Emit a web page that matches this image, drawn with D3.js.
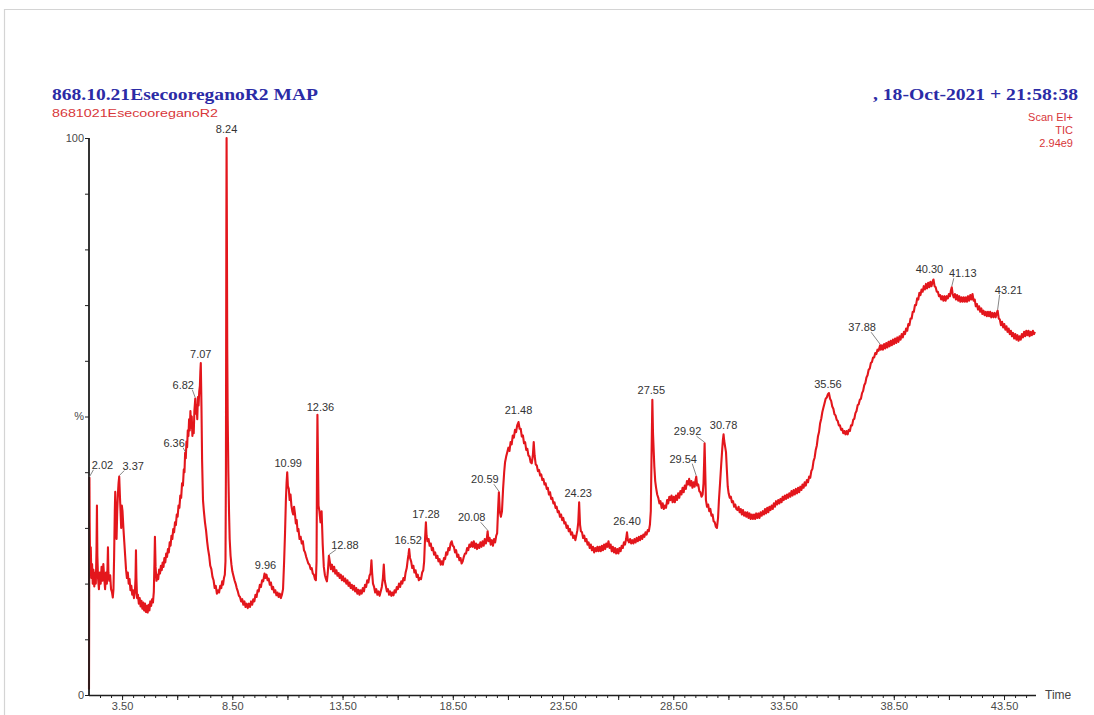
<!DOCTYPE html>
<html>
<head>
<meta charset="utf-8">
<script src="https://cdn.jsdelivr.net/npm/d3@7"></script>
<style>
  html, body { margin: 0; padding: 0; background: #fff; }
  svg { display: block; }
</style>
</head>
<body>
<svg id="chart" width="1094" height="715"></svg>
<script>
// Total ion chromatogram: [retention time (min), relative abundance (%)]
const ticTrace = [
  [2.00,1.0],[2.01,18],[2.02,39.0],[2.03,31],[2.05,24],[2.08,26.5],[2.11,21],[2.14,23.5],[2.17,20],[2.20,22.5],
  [2.24,19.5],[2.28,22],[2.31,20],[2.34,26],[2.36,34],[2.38,25],[2.41,21],[2.45,19],[2.49,22],[2.53,20],
  [2.57,23],[2.61,20.5],[2.65,23.5],[2.69,21],[2.73,19],[2.77,22],[2.81,20],[2.84,23],[2.86,26.5],[2.88,22],
  [2.92,20.5],[2.96,21.5],[3.00,19],[3.04,18.5],[3.08,17.5],[3.11,19],[3.14,25],[3.17,33],[3.19,36.5],[3.22,31],
  [3.25,28],[3.28,33],[3.31,36],[3.34,38],[3.37,39.2],[3.40,36],[3.43,33],[3.46,30],[3.49,34],[3.52,33],
  [3.56,30],[3.60,27.5],[3.64,25],[3.68,22.5],[3.72,21],[3.76,22],[3.80,20],[3.84,20.8],[3.88,18.8],[3.92,19.6],
  [3.96,18],[4.00,18.8],[4.04,17.4],[4.08,18.4],[4.11,21],[4.13,26],[4.15,21],[4.18,17.4],[4.22,18],[4.26,16.4],
  [4.30,17.4],[4.34,15.9],[4.38,16.9],[4.42,15.5],[4.46,16.6],[4.50,15.2],[4.54,16.4],[4.58,14.9],[4.62,16],[4.66,14.8],
  [4.70,16.2],[4.74,15.2],[4.78,16.8],[4.82,16],[4.86,17.2],[4.90,16.6],[4.94,18.5],[4.97,24],[4.99,28.4],[5.02,23],
  [5.06,20.5],[5.10,21.6],[5.14,20.8],[5.18,22.5],[5.22,21.8],[5.26,23.2],[5.30,22.4],[5.34,23.8],[5.38,23],[5.42,24.6],
  [5.46,23.8],[5.50,25.4],[5.54,24.8],[5.58,26.2],[5.62,25.6],[5.66,27.4],[5.70,26.8],[5.74,28.6],[5.78,28],[5.82,29.8],
  [5.86,29.2],[5.90,31],[5.94,30.5],[5.98,32.4],[6.02,32],[6.06,34],[6.10,33.6],[6.14,35.8],[6.18,35.4],[6.22,38],
  [6.26,37.6],[6.30,40.5],[6.33,40],[6.36,43.5],[6.39,42.5],[6.42,45.5],[6.45,44.5],[6.48,47.5],[6.51,46.5],[6.54,49.5],
  [6.57,47.5],[6.60,51],[6.63,48],[6.66,50],[6.69,46.5],[6.72,48.5],[6.75,47],[6.78,51],[6.82,53.2],[6.85,50.5],
  [6.88,52],[6.91,49.5],[6.94,53.5],[6.97,52],[7.00,54.5],[7.03,55.5],[7.05,58],[7.07,59.6],[7.10,52],[7.13,42],
  [7.17,35],[7.21,33],[7.26,31],[7.31,29.5],[7.36,27.5],[7.40,26.2],[7.45,25],[7.50,23.2],[7.55,22.6],[7.60,21.2],
  [7.65,20.6],[7.70,19.2],[7.75,19.6],[7.80,18.2],[7.85,18.8],[7.90,18.4],[7.95,19.6],[8.00,19.2],[8.04,20.4],[8.08,19.8],
  [8.12,21],[8.16,21.6],[8.19,24],[8.21,40],[8.23,85],[8.24,100],[8.25,88],[8.27,62],[8.29,50],[8.32,40],
  [8.35,33],[8.38,28],[8.42,25],[8.46,23.4],[8.50,22.2],[8.55,21.4],[8.60,20.6],[8.65,20],[8.70,19.2],[8.75,18.6],
  [8.80,17.8],[8.85,17.6],[8.90,16.8],[8.95,17.2],[9.00,16.2],[9.05,16.8],[9.10,15.8],[9.15,16.4],[9.20,15.6],[9.25,16.4],
  [9.30,15.8],[9.35,16.8],[9.40,16.2],[9.45,17.2],[9.50,16.8],[9.55,18],[9.60,17.6],[9.65,18.8],[9.70,18.6],[9.75,19.8],
  [9.80,19.4],[9.85,20.6],[9.90,20.4],[9.96,21.8],[10.00,21],[10.05,21.6],[10.10,20.6],[10.15,20.9],[10.20,19.8],[10.25,20.2],
  [10.30,19],[10.35,19.4],[10.40,18.4],[10.45,18.8],[10.50,17.9],[10.55,18.4],[10.60,17.6],[10.65,18.2],[10.70,17.4],[10.75,18],
  [10.80,19],[10.85,24],[10.89,29],[10.93,35],[10.96,38],[10.99,40],[11.02,37.5],[11.06,37],[11.10,35],[11.14,36],
  [11.18,34],[11.22,33],[11.26,32.4],[11.30,33.8],[11.34,32.6],[11.38,30.8],[11.42,31.4],[11.46,29.4],[11.50,29.8],[11.55,28],
  [11.60,28.4],[11.65,27.2],[11.70,27.6],[11.75,26],[11.80,25.6],[11.85,24.8],[11.90,24.2],[11.95,23.6],[12.00,23.4],[12.05,22.6],
  [12.10,22.8],[12.15,21.8],[12.20,21.6],[12.25,20.8],[12.29,20.6],[12.32,24],[12.34,40],[12.36,50.3],[12.38,44],[12.41,34],
  [12.45,33],[12.50,31],[12.55,33],[12.60,27],[12.65,23],[12.70,21.5],[12.75,20.8],[12.79,20.4],[12.83,22],[12.88,25],
  [12.92,24],[12.97,22.6],[13.02,23.4],[13.07,22.2],[13.12,23],[13.17,21.8],[13.22,22.4],[13.27,21.4],[13.32,21.9],[13.37,21],
  [13.42,21.6],[13.47,20.6],[13.52,21.3],[13.57,20.4],[13.62,20.9],[13.67,20],[13.72,20.6],[13.77,19.6],[13.82,20.2],[13.87,19.2],
  [13.92,19.8],[13.97,18.9],[14.02,19.6],[14.07,18.6],[14.12,19.2],[14.17,18.2],[14.22,18.9],[14.27,18],[14.32,18.8],[14.37,18.2],
  [14.42,19.2],[14.47,18.6],[14.52,19.8],[14.57,19.4],[14.62,20.6],[14.67,20.2],[14.72,21.4],[14.77,21.8],[14.81,24.2],[14.84,22],
  [14.88,20],[14.93,19.4],[14.98,18.4],[15.03,19],[15.08,18],[15.13,18.6],[15.18,17.8],[15.23,18.6],[15.28,19.4],[15.33,21],
  [15.37,23.4],[15.41,20.6],[15.46,19.6],[15.51,18.6],[15.56,19],[15.61,18],[15.66,18.6],[15.71,17.8],[15.76,18.4],[15.81,17.9],
  [15.86,18.8],[15.91,18.4],[15.96,19.4],[16.01,19],[16.06,20],[16.11,19.4],[16.16,20.4],[16.21,20],[16.26,21],[16.31,20.6],
  [16.36,22],[16.41,22.8],[16.46,24.4],[16.49,25.2],[16.52,26.2],[16.56,24.6],[16.61,24],[16.66,22.8],[16.71,23.2],[16.76,22],
  [16.81,22.4],[16.86,21.2],[16.91,21.6],[16.96,20.6],[17.01,21],[17.06,20.8],[17.11,22],[17.16,22.4],[17.20,24],[17.24,28],
  [17.28,31],[17.31,28.6],[17.35,27.6],[17.40,28],[17.45,26.8],[17.50,27.2],[17.55,26],[17.60,26.4],[17.65,25.2],[17.70,25.6],
  [17.75,24.6],[17.80,25],[17.85,24],[17.90,24.4],[17.95,23.4],[18.00,24],[18.05,23.4],[18.10,24.6],[18.15,24.4],[18.20,25.6],
  [18.25,25.2],[18.30,26.4],[18.35,26],[18.40,27.2],[18.45,27.6],[18.50,26.8],[18.55,26.6],[18.60,25.6],[18.65,26],[18.70,24.8],
  [18.75,25.2],[18.80,24.2],[18.85,24.6],[18.90,23.6],[18.95,24],[19.00,24.8],[19.05,25.4],[19.10,25.4],[19.15,26.4],[19.20,26],
  [19.25,27],[19.30,26.6],[19.35,27.4],[19.40,26.6],[19.45,27.6],[19.50,26.4],[19.55,27.2],[19.60,26.2],[19.65,27],[19.70,26.4],
  [19.75,27.4],[19.80,26.6],[19.85,27.6],[19.90,26.8],[19.95,28],[20.00,27.2],[20.04,28],[20.08,29.4],[20.12,27.6],[20.17,28.2],
  [20.22,27],[20.27,27.8],[20.32,26.8],[20.37,28],[20.42,27.4],[20.47,28.6],[20.51,29],[20.55,33],[20.59,36.4],[20.63,33],
  [20.68,32],[20.73,33],[20.78,37],[20.83,40],[20.87,41.8],[20.92,42.8],[20.97,43.6],[21.02,44.4],[21.07,43.8],[21.12,45.4],
  [21.17,45],[21.22,46.6],[21.27,46.2],[21.32,47.6],[21.37,47.2],[21.42,48.4],[21.48,49],[21.53,47.8],[21.58,47.8],[21.63,46.4],
  [21.68,46.6],[21.73,45.2],[21.78,45.4],[21.83,44],[21.88,44.2],[21.93,43],[21.98,42.8],[22.03,41.8],[22.08,41.6],[22.13,43],
  [22.17,45.4],[22.21,43],[22.26,41.4],[22.31,41.2],[22.36,40.2],[22.41,40.4],[22.46,39.4],[22.51,39.6],[22.56,38.6],[22.61,38.8],
  [22.66,37.8],[22.71,38],[22.76,37],[22.81,37.2],[22.86,36],[22.91,36.4],[22.96,35.2],[23.01,35.4],[23.06,34.4],[23.11,34.6],
  [23.16,33.6],[23.21,33.8],[23.26,32.8],[23.31,33],[23.36,32],[23.41,32.4],[23.46,31.4],[23.51,31.8],[23.56,30.8],[23.61,31],
  [23.66,30],[23.71,30.4],[23.76,29.4],[23.81,29.8],[23.86,28.8],[23.91,29.2],[23.96,28.2],[24.01,28.6],[24.06,27.8],[24.11,28.8],
  [24.15,29.6],[24.19,31],[24.23,34.6],[24.27,30.6],[24.31,29.4],[24.36,29.2],[24.41,28.2],[24.46,28.6],[24.51,27.6],[24.56,28],
  [24.61,27],[24.66,27.4],[24.71,26.4],[24.76,27],[24.81,26],[24.86,26.6],[24.91,25.6],[24.96,26.4],[25.01,25.8],[25.06,26.6],
  [25.11,25.8],[25.16,26.6],[25.21,25.8],[25.26,26.8],[25.31,26],[25.36,27],[25.41,26.2],[25.46,27.2],[25.51,26.6],[25.56,27.6],
  [25.61,26.4],[25.66,27],[25.71,25.8],[25.76,26.6],[25.81,25.6],[25.86,26.4],[25.91,25.4],[25.96,26.2],[26.01,25.4],[26.06,26.4],
  [26.11,25.8],[26.16,26.8],[26.21,26.4],[26.26,27.4],[26.31,27],[26.36,28],[26.40,29.2],[26.44,27.8],[26.49,27.4],[26.54,28],
  [26.59,27.2],[26.64,27.8],[26.69,27.2],[26.74,28],[26.79,27.4],[26.84,28.2],[26.89,27.6],[26.94,28.4],[26.99,27.8],[27.04,28.6],
  [27.09,28],[27.14,28.8],[27.19,28.4],[27.24,29.2],[27.29,28.8],[27.34,29.6],[27.39,29.4],[27.44,30.6],[27.48,33],[27.51,42],
  [27.55,53],[27.58,47],[27.61,44],[27.64,41],[27.68,38.4],[27.72,37.2],[27.77,36],[27.82,35.4],[27.87,34.4],[27.92,34.8],
  [27.97,33.6],[28.02,34.4],[28.07,33.4],[28.12,34],[28.17,33.6],[28.22,35],[28.27,34.4],[28.32,35.6],[28.37,35],[28.42,35.8],
  [28.47,34.6],[28.52,35.6],[28.57,34.6],[28.62,35.8],[28.67,35],[28.72,36.2],[28.77,35.4],[28.82,36.6],[28.87,36],[28.92,37.2],
  [28.97,36.4],[29.02,37.6],[29.07,37],[29.12,38.4],[29.17,37.8],[29.22,38.8],[29.27,37.6],[29.32,38.4],[29.37,37.2],[29.42,38.2],
  [29.47,37.4],[29.51,38.6],[29.54,39.2],[29.58,37.6],[29.63,37.8],[29.68,36.6],[29.73,36.4],[29.78,35.6],[29.83,36],[29.87,38],
  [29.90,42],[29.92,45.2],[29.95,40],[29.98,35],[30.03,33.8],[30.08,34.2],[30.13,33],[30.18,33.4],[30.23,32.2],[30.28,32.4],
  [30.33,31.2],[30.38,31],[30.43,30.2],[30.48,30],[30.53,31.8],[30.57,35],[30.62,38],[30.67,41.2],[30.72,44.2],[30.75,45.8],
  [30.78,46.8],[30.81,45.6],[30.85,44.6],[30.89,43.6],[30.93,40.4],[30.97,37.4],[31.01,36.2],[31.06,35.4],[31.11,35.6],[31.16,34.6],
  [31.21,34.8],[31.26,33.8],[31.31,34.2],[31.36,33.4],[31.41,33.2],[31.46,33.8],[31.51,32.8],[31.56,33.4],[31.61,32.4],[31.66,33.2],
  [31.71,32.2],[31.76,32.8],[31.81,32],[31.86,32.8],[31.91,31.8],[31.96,32.6],[32.01,31.6],[32.06,32.4],[32.11,31.6],[32.16,32.4],
  [32.21,31.6],[32.26,32.6],[32.31,31.8],[32.36,32.6],[32.41,31.8],[32.46,32.8],[32.51,32.2],[32.56,33],[32.61,32.4],[32.66,33.4],
  [32.71,32.6],[32.76,33.6],[32.81,32.8],[32.86,33.8],[32.91,33.2],[32.96,34],[33.01,33.4],[33.06,34.4],[33.11,33.8],[33.16,34.8],
  [33.21,34.2],[33.26,35],[33.31,34.4],[33.36,35.2],[33.41,34.6],[33.46,35.6],[33.51,35],[33.56,35.8],[33.61,35.2],[33.66,36],
  [33.71,35.4],[33.76,36.2],[33.81,35.6],[33.86,36.6],[33.91,35.8],[33.96,36.8],[34.01,36],[34.06,37],[34.11,36.2],[34.16,37.2],
  [34.21,36.4],[34.26,37.4],[34.31,36.8],[34.36,37.8],[34.41,37.2],[34.46,38.2],[34.51,37.6],[34.56,38.6],[34.61,38.2],[34.66,39.2],
  [34.71,39],[34.76,40.2],[34.81,40.6],[34.86,42],[34.91,42.6],[34.96,44],[35.01,44.8],[35.06,46.4],[35.11,47.2],[35.16,48.8],
  [35.21,49.6],[35.26,50.8],[35.31,51.6],[35.36,52.4],[35.41,53.2],[35.46,53.4],[35.51,54],[35.56,54.2],[35.61,53.2],[35.66,52.8],
  [35.71,51.8],[35.76,51.4],[35.81,50.4],[35.86,50.2],[35.91,49.4],[35.96,49.2],[36.01,48.4],[36.06,48.4],[36.11,47.6],[36.16,47.8],
  [36.21,47],[36.26,47.4],[36.31,46.8],[36.36,47.4],[36.41,46.8],[36.46,47.6],[36.51,47.4],[36.56,48.4],[36.61,48.4],[36.66,49.4],
  [36.71,49.6],[36.76,50.6],[36.81,51],[36.86,52],[36.91,52.2],[36.96,53],[37.01,53.2],[37.06,54.2],[37.11,54.6],[37.16,55.6],
  [37.21,56],[37.26,57],[37.31,57.4],[37.36,58.4],[37.41,58.6],[37.46,59.6],[37.51,59.8],[37.56,60.6],[37.61,60.6],[37.66,61.4],
  [37.71,61.2],[37.76,62],[37.81,61.8],[37.88,62.8],[37.91,62],[37.96,62.8],[38.01,62],[38.06,63],[38.11,62.2],[38.16,63.2],
  [38.21,62.4],[38.26,63.4],[38.31,62.6],[38.36,63.6],[38.41,62.8],[38.46,63.8],[38.51,63],[38.56,64],[38.61,63.2],[38.66,64.2],
  [38.71,63.4],[38.76,64.4],[38.81,63.8],[38.86,64.8],[38.91,64.2],[38.96,65.2],[39.01,64.8],[39.06,65.8],[39.11,65.4],[39.16,66.6],
  [39.21,66.4],[39.26,67.6],[39.31,67.6],[39.36,68.8],[39.41,68.8],[39.46,70],[39.51,70],[39.56,71.2],[39.61,71],[39.66,72.2],
  [39.71,71.8],[39.76,72.8],[39.81,72.4],[39.86,73.4],[39.91,72.8],[39.96,73.8],[40.01,73],[40.06,74],[40.11,73.2],[40.16,74.2],
  [40.21,73.4],[40.26,74.2],[40.30,74.6],[40.35,73.4],[40.40,73.2],[40.45,72.4],[40.50,72.4],[40.55,71.6],[40.60,71.8],[40.65,71],
  [40.70,71.6],[40.75,70.8],[40.80,71.6],[40.85,70.8],[40.90,71.6],[40.95,71.2],[41.00,72],[41.05,71.6],[41.09,72.6],[41.13,73.2],
  [41.17,72],[41.22,71.4],[41.27,72],[41.32,71],[41.37,71.8],[41.42,70.8],[41.47,71.6],[41.52,70.6],[41.57,71.4],[41.62,70.6],
  [41.67,71.4],[41.72,70.6],[41.77,71.4],[41.82,70.6],[41.87,71.6],[41.92,70.8],[41.97,71.8],[42.02,71],[42.07,72],[42.12,70.8],
  [42.17,71],[42.22,69.8],[42.27,70.2],[42.32,69.2],[42.37,69.8],[42.42,68.8],[42.47,69.4],[42.52,68.4],[42.57,69],[42.62,68.2],
  [42.67,68.8],[42.72,68],[42.77,68.8],[42.82,68],[42.87,68.8],[42.92,67.8],[42.97,68.6],[43.02,67.8],[43.07,68.6],[43.12,67.8],
  [43.17,68.6],[43.21,69],[43.26,67.6],[43.31,67.4],[43.36,66.4],[43.41,67],[43.46,66],[43.51,66.6],[43.56,65.6],[43.61,66.2],
  [43.66,65.2],[43.71,65.8],[43.76,64.8],[43.81,65.4],[43.86,64.4],[43.91,65],[43.96,64],[44.01,64.8],[44.06,63.8],[44.11,64.6],
  [44.16,63.6],[44.21,64.4],[44.26,63.8],[44.31,64.8],[44.36,64.2],[44.41,65.2],[44.46,64.4],[44.51,65.4],[44.56,64.6],[44.61,65.4],
  [44.66,64.4],[44.71,65.2],[44.76,64.6],[44.81,65.4],[44.86,64.8],[44.90,65.2]
];

// Labelled peak retention times (min)
const peakTimes = [2.02, 3.37, 6.36, 6.82, 7.07, 8.24, 9.96, 10.99, 12.36, 12.88, 16.52, 17.28,
  20.08, 20.59, 21.48, 24.23, 26.40, 27.55, 29.54, 29.92, 30.78, 35.56, 37.88, 40.30, 41.13, 43.21];

// Axis ticks
const xTickValues = [3.5, 8.5, 13.5, 18.5, 23.5, 28.5, 33.5, 38.5, 43.5];
const yTickValues = [0, 10, 20, 30, 40, 50, 60, 70, 80, 90, 100];
const yTickLabels = [[0, "0"], [50, "%"], [100, "100"]];

// Header text
const headerTitle = "868.10.21EsecooreganoR2 MAP";
const headerSample = "8681021EsecooreganoR2";
const headerDate = ", 18-Oct-2021 + 21:58:38";
const headerInfo = ["Scan EI+", "TIC", "2.94e9"];

// Label placement relative to each peak apex: [dx, dy] of the label centre
const labelOffsets = {
  "2.02": [13, -13], "3.37": [14, -11], "6.36": [-11, -10], "6.82": [-12, -14], "7.07": [0, -9],
  "8.24": [0, -9], "9.96": [1, -8], "10.99": [1, -9], "12.36": [3, -8], "12.88": [16, -11],
  "16.52": [-1, -9], "17.28": [0, -8], "20.08": [-16, -14], "20.59": [-14, -13], "21.48": [0, -12],
  "24.23": [-1, -9], "26.40": [0, -11], "27.55": [-1, -10], "29.54": [-13, -18], "29.92": [-17, -12],
  "30.78": [0, -9], "35.56": [-1, -9], "37.88": [-18, -18], "40.30": [-4, -10], "41.13": [11, -14],
  "43.21": [11, -21]
};

const svg = d3.select("#chart");
const W = 1094, H = 715;

const x = d3.scaleLinear().domain([2.0, 44.95]).range([89, 1036]);
const y = d3.scaleLinear().domain([0, 100]).range([695, 138]);

const sansFont = "'Liberation Sans', Arial, sans-serif";
const serifFont = "'Liberation Serif', 'Times New Roman', serif";

// Page frame
svg.append("rect").attr("x", 0).attr("y", 0).attr("width", W).attr("height", H).attr("fill", "#fff");
svg.append("path")
  .attr("d", `M4.5,${H} V9.5 H${W}`)
  .attr("fill", "none").attr("stroke", "#d4d4d4").attr("stroke-width", 1.2);

// Header
svg.append("text").attr("x", 52).attr("y", 100)
  .attr("font-family", serifFont).attr("font-weight", "bold").attr("font-size", 16)
  .attr("fill", "#2b2ba6").attr("textLength", 266).attr("lengthAdjust", "spacingAndGlyphs")
  .text(headerTitle);
svg.append("text").attr("x", 52).attr("y", 117)
  .attr("font-family", sansFont).attr("font-size", 10.5).attr("fill", "#d8373a")
  .attr("textLength", 166).attr("lengthAdjust", "spacingAndGlyphs")
  .text(headerSample);
svg.append("text").attr("x", 873).attr("y", 100)
  .attr("font-family", serifFont).attr("font-weight", "bold").attr("font-size", 16)
  .attr("fill", "#2b2ba6").attr("textLength", 205).attr("lengthAdjust", "spacingAndGlyphs")
  .text(headerDate);
svg.selectAll("text.info").data(headerInfo).enter().append("text")
  .attr("class", "info")
  .attr("x", 1073).attr("y", (d, i) => 121 + i * 13).attr("text-anchor", "end")
  .attr("font-family", sansFont).attr("font-size", 11).attr("fill", "#d8373a")
  .text(d => d);

// Chromatogram trace
const line = d3.line().x(d => x(d[0])).y(d => y(d[1]));
svg.append("path").datum(ticTrace)
  .attr("d", line)
  .attr("fill", "none")
  .attr("stroke", "#e3161c")
  .attr("stroke-width", 2.1)
  .attr("stroke-linejoin", "round");

// X axis: minor ticks every 0.5 min, longer every 2.5 min, labels every 5 min
const minorTicks = d3.range(2.5, 44.9, 0.5);
const majorTicks = d3.range(3.5, 44.9, 2.5);
const axisColor = "#1e1e1e";

const gxMinor = svg.append("g").attr("transform", "translate(0,695)")
  .call(d3.axisBottom(x).tickValues(minorTicks).tickSize(3).tickFormat("").tickSizeOuter(0));
const gxMajor = svg.append("g").attr("transform", "translate(0,695)")
  .call(d3.axisBottom(x).tickValues(majorTicks).tickSize(5).tickFormat("").tickSizeOuter(0));
const gxLab = svg.append("g").attr("transform", "translate(0,695)")
  .call(d3.axisBottom(x).tickValues(xTickValues).tickSize(0).tickPadding(7)
    .tickFormat(d3.format(".2f")).tickSizeOuter(0));
[gxMinor, gxMajor, gxLab].forEach(g => {
  g.select(".domain").remove();
  g.selectAll("line").attr("stroke", axisColor).attr("stroke-width", 1);
});
gxLab.selectAll("text").attr("font-family", sansFont).attr("font-size", 11).attr("fill", "#4a4a4a");
svg.append("line").attr("x1", 89).attr("x2", 1036).attr("y1", 695.5).attr("y2", 695.5)
  .attr("stroke", axisColor).attr("stroke-width", 1.6);
svg.append("text").attr("x", 1045).attr("y", 699)
  .attr("font-family", sansFont).attr("font-size", 12).attr("fill", "#444").text("Time");

// Y axis
const gy = svg.append("g").attr("transform", "translate(89,0)")
  .call(d3.axisLeft(y).tickValues(yTickValues).tickSize(4).tickFormat("").tickSizeOuter(0));
gy.select(".domain").remove();
gy.selectAll("line").attr("stroke", axisColor);
svg.append("line").attr("x1", 89).attr("x2", 89).attr("y1", 138).attr("y2", 696)
  .attr("stroke", axisColor).attr("stroke-width", 1.8);
svg.selectAll("text.ylab").data(yTickLabels).enter().append("text")
  .attr("class", "ylab")
  .attr("x", 84).attr("y", d => y(d[0]))
  .attr("dy", "0.35em").attr("text-anchor", "end")
  .attr("font-family", sansFont).attr("font-size", 11).attr("fill", "#4a4a4a")
  .text(d => d[1]);

// Peak labels with leader lines
const fmt = d3.format(".2f");
const peaks = peakTimes.map(t => {
  const p = ticTrace.reduce((best, d) => Math.abs(d[0] - t) < Math.abs(best[0] - t) ? d : best);
  const key = fmt(t);
  const off = labelOffsets[key] || [0, -9];
  return { t, v: p[1], px: x(p[0]), py: y(p[1]), dx: off[0], dy: off[1], label: key };
});

const labels = svg.append("g");
peaks.forEach(p => {
  const tx = p.px + p.dx, ty = p.py + p.dy;
  if (Math.abs(p.dx) > 5) {
    const ex = tx - Math.sign(p.dx) * 9;
    labels.append("line")
      .attr("x1", p.px).attr("y1", p.py - 1)
      .attr("x2", ex).attr("y2", ty + 5)
      .attr("stroke", "#666").attr("stroke-width", 0.8);
  }
  labels.append("text")
    .attr("x", tx).attr("y", ty).attr("dy", "0.35em")
    .attr("text-anchor", "middle")
    .attr("font-family", sansFont).attr("font-size", 11).attr("fill", "#333")
    .text(p.label);
});
</script>
</body>
</html>
